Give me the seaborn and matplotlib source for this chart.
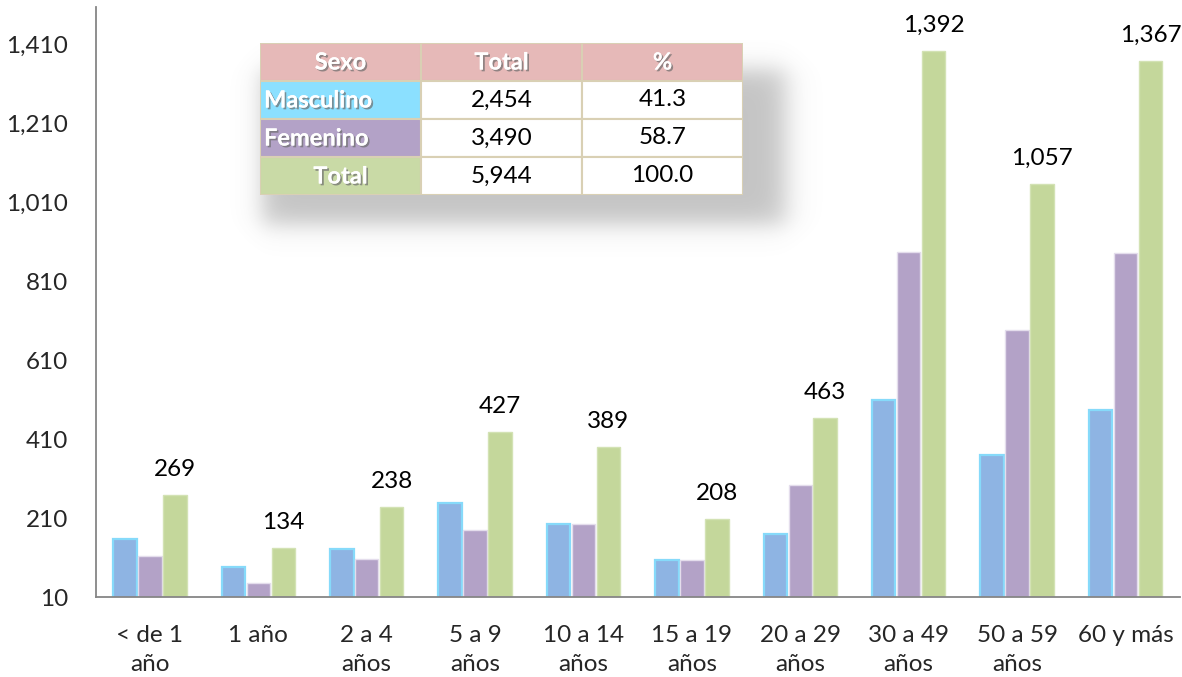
import numpy as np
import pandas as pd
import matplotlib
matplotlib.use("Agg")
import matplotlib.pyplot as plt
import matplotlib.patheffects as pe
from matplotlib.patches import Rectangle
import seaborn as sns

# Age groups and cases by sex
categorias = ["< de 1\naño", "1 año", "2 a 4\naños", "5 a 9\naños", "10 a 14\naños",
              "15 a 19\naños", "20 a 29\naños", "30 a 49\naños", "50 a 59\naños", "60 y más"]
masculino = [156, 87, 132, 248, 194, 104, 169, 508, 371, 485]
femenino = [113, 47, 106, 179, 195, 104, 294, 884, 686, 882]
total = [269, 134, 238, 427, 389, 208, 463, 1392, 1057, 1367]
series = ["Masculino", "Femenino", "Total"]

# Summary table
tabla_encabezado = ["Sexo", "Total", "%"]
tabla_sexo = ["Masculino", "Femenino", "Total"]
tabla_total = ["2,454", "3,490", "5,944"]
tabla_pct = ["41.3", "58.7", "100.0"]

yticks = [10, 210, 410, 610, 810, 1010, 1210, 1410]

df = pd.DataFrame({
    "grupo": categorias * 3,
    "serie": [s for s in series for _ in categorias],
    "casos": masculino + femenino + total,
})

sns.set_theme(style="white")
plt.rcParams["font.family"] = ["Lato", "DejaVu Sans"]

fill = {"Masculino": "#8EB4E3", "Femenino": "#B3A2C7", "Total": "#C4D79B"}
edge = {"Masculino": "#86DAFA", "Femenino": "#E4DDEC", "Total": "#D3E2B4"}

FS = 17.5

fig = plt.figure(figsize=(11.82, 6.77), dpi=100)
ax = fig.add_axes([0.081, 0.118, 0.917, 0.872])

sns.barplot(data=df, x="grupo", y="casos", hue="serie", hue_order=series,
            palette=fill, width=0.69, gap=0.06, ax=ax, legend=False,
            saturation=1.0)

for cont, s in zip(ax.containers, series):
    for p in cont:
        p.set_edgecolor(edge[s])
        p.set_linewidth(1.6 if s == "Masculino" else 1.0)

# value labels over the total bars
for p, v in zip(ax.containers[2], total):
    ax.annotate(f"{v:,}", (p.get_x() + p.get_width() / 2, v),
                xytext=(0, 11), textcoords="offset points",
                ha="center", va="bottom", fontsize=FS, color="black")

ax.set_ylim(10, 1505)
ax.set_xlim(-0.5, len(categorias) - 0.5)
ax.set_yticks(yticks)
ax.set_yticklabels([f"{t:,}" for t in yticks], fontsize=FS)
ax.set_xticks(range(len(categorias)))
ax.set_xticklabels(categorias, fontsize=FS, linespacing=1.45, va="top")
ax.set_xticks(np.arange(-0.5, len(categorias), 1.0), minor=True)
ax.tick_params(axis="x", which="major", length=0, pad=20)
ax.tick_params(axis="x", which="minor", length=8, width=1.2, color="#868686", direction="out")
ax.tick_params(axis="y", length=7, width=1.2, color="#868686", direction="out", pad=13)
ax.tick_params(axis="y", which="minor", left=False)
ax.set_xlabel("")
ax.set_ylabel("")
for side in ["top", "right"]:
    ax.spines[side].set_visible(False)
for side in ["left", "bottom"]:
    ax.spines[side].set_color("#868686")
    ax.spines[side].set_linewidth(1.3)

# soft drop shadow under the summary table
W, H = 1182, 677
sx0, sx1, sy0, sy1 = 225, 830, 40, 270
sh = fig.add_axes([sx0 / W, 1 - sy1 / H, (sx1 - sx0) / W, (sy1 - sy0) / H], zorder=3)
xs = np.arange(sx0, sx1)
ys = np.arange(sy0, sy1)
ax_prof = 0.5 * (np.tanh((xs - 262) / 14) - np.tanh((xs - 785) / 16))
ay_prof = 0.5 * (np.tanh((ys - 70) / 14) - np.tanh((ys - 224) / 14))
alpha = 0.42 * np.outer(ay_prof, ax_prof)
img = np.zeros((len(ys), len(xs), 4))
img[..., :3] = 0.45
img[..., 3] = alpha
sh.imshow(img, aspect="auto", interpolation="bilinear")
sh.axis("off")

# summary table
tb = fig.add_axes([260 / W, 1 - 195 / H, 483 / W, 152 / H], zorder=4)
tb.set_xlim(0, 3)
tb.set_ylim(0, 4)
tb.axis("off")
border = "#D9D0B4"
row_cols = ["#8BE0FF", "#B3A2C7", "#C9DAA6"]
shadow_fx = [pe.withSimplePatchShadow(offset=(1.3, -1.3), shadow_rgbFace="#6d6d6d", alpha=0.7), pe.Normal()]
for c in range(3):
    tb.add_patch(Rectangle((c, 3), 1, 1, facecolor="#E6B9B8", edgecolor=border, lw=1.5))
    tb.text(c + 0.5, 3.5, tabla_encabezado[c], ha="center", va="center", fontsize=17,
            fontweight="bold", color="white", path_effects=shadow_fx)
for r in range(3):
    y = 2 - r
    tb.add_patch(Rectangle((0, y), 1, 1, facecolor=row_cols[r], edgecolor=border, lw=1.5))
    tb.add_patch(Rectangle((1, y), 1, 1, facecolor="white", edgecolor=border, lw=1.5))
    tb.add_patch(Rectangle((2, y), 1, 1, facecolor="white", edgecolor=border, lw=1.5))
    if tabla_sexo[r] == "Total":
        tb.text(0.5, y + 0.5, tabla_sexo[r], ha="center", va="center", fontsize=17,
                fontweight="bold", color="white", path_effects=shadow_fx)
    else:
        tb.text(0.025, y + 0.5, tabla_sexo[r], ha="left", va="center", fontsize=17,
                fontweight="bold", color="white", path_effects=shadow_fx)
    tb.text(1.5, y + 0.5, tabla_total[r], ha="center", va="center", fontsize=FS, color="black")
    tb.text(2.5, y + 0.5, tabla_pct[r], ha="center", va="center", fontsize=FS, color="black")

fig.savefig("out.png", dpi=100)
